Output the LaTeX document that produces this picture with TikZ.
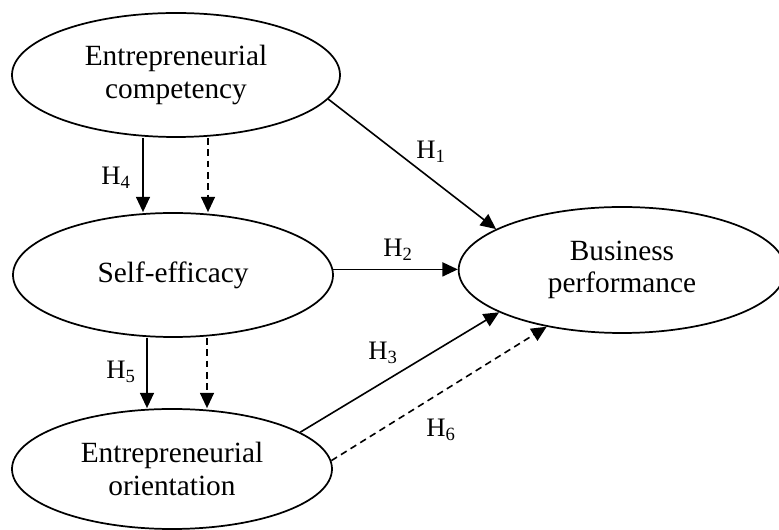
\documentclass[tikz,border=0pt]{standalone}
\usepackage{fontspec}
\setmainfont{Liberation Serif}
\usetikzlibrary{arrows.meta,shapes.geometric}
\begin{document}
\begin{tikzpicture}[x=0.75pt,y=-0.75pt,
  construct/.style={draw,line width=1.3pt,ellipse,inner sep=0pt,align=center,
    font=\fontsize{22}{24.5}\selectfont},
  arr/.style={line width=1.2pt,-{Triangle[length=11.5pt,width=10.5pt]}},
  darr/.style={arr,dash pattern=on 5pt off 3.5pt},
  hyp/.style={font=\fontsize{20}{22}\selectfont,inner sep=0pt}]
\useasboundingbox (0,0) rectangle (779,530);
\node[construct,minimum width=246pt,minimum height=93pt] (ec) at (176,75) {Entrepreneurial\\competency};
\node[construct,minimum width=240pt,minimum height=93pt] (se) at (173,275) {Self-efficacy};
\node[construct,minimum width=240pt,minimum height=90pt] (eo) at (172,469) {Entrepreneurial\\orientation};
\node[construct,minimum width=245pt,minimum height=94.5pt] (bp) at (622,270) {Business\\performance};
% H4
\draw[arr] ([xshift=-24.75pt]ec.south) -- ([xshift=-24.75pt]ec.south |- se.north);
\draw[darr] ([xshift=24pt]ec.south) -- ([xshift=24pt]ec.south |- se.north);
% H5
\draw[arr] ([xshift=-19.5pt]se.south) -- ([xshift=-19.5pt]se.south |- eo.north);
\draw[darr] ([xshift=25.5pt]se.south) -- ([xshift=25.5pt]se.south |- eo.north);
% H1, H2, H3, H6
\draw[arr] (ec.-9) -- (bp.162.8);
\draw[arr] (se.2.2) -- (se.2.2 -| bp.west);
\draw[arr] (eo.16.5) -- (bp.199);
\draw[darr] (eo.3.3) -- (bp.217.6);
% labels
\node[hyp] (h1) at (431,152) {H\textsubscript{1}};
\node[hyp] (h2) at (398,250) {H\textsubscript{2}};
\node[hyp] (h3) at (383,353) {H\textsubscript{3}};
\node[hyp] (h4) at (116,178) {H\textsubscript{4}};
\node[hyp] (h5) at (121,372) {H\textsubscript{5}};
\node[hyp] (h6) at (441,430) {H\textsubscript{6}};
\end{tikzpicture}
\end{document}
